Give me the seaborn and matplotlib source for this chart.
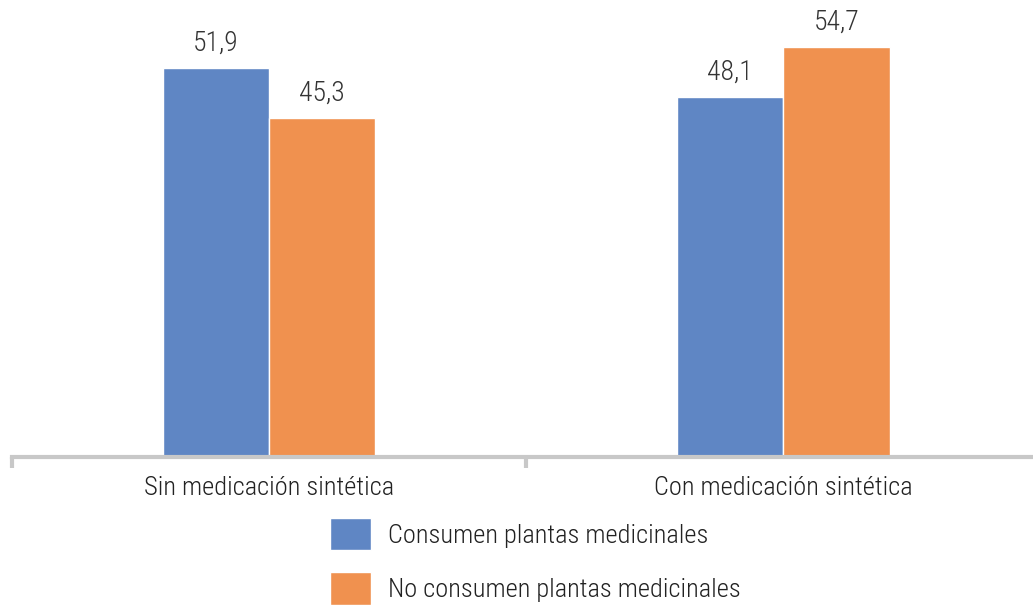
import seaborn as sns
import matplotlib.pyplot as plt
import matplotlib.patches as mpatches
import pandas as pd

# data
categories = ["Sin medicación sintética", "Con medicación sintética"]
series_names = ["Consumen plantas medicinales", "No consumen plantas medicinales"]
consumen = [51.9, 48.1]
no_consumen = [45.3, 54.7]

colors = ["#5F86C4", "#F0914F"]

sns.set_style("white")
plt.rcParams["font.family"] = ["Roboto Condensed", "Liberation Sans Narrow", "Roboto", "DejaVu Sans"]
plt.rcParams["font.stretch"] = "condensed"
plt.rcParams["font.weight"] = "light"

df = pd.DataFrame({
    "categoria": categories * 2,
    "grupo": [series_names[0]] * 2 + [series_names[1]] * 2,
    "valor": consumen + no_consumen,
})

fig = plt.figure(figsize=(10.33, 6.05), dpi=100)
ax = fig.add_axes([12 / 1033, 1 - 457 / 605, 1 - 12 / 1033, 457 / 605])

sns.barplot(data=df, x="categoria", y="valor", hue="grupo", palette=colors,
            saturation=1, width=0.414, edgecolor="white", linewidth=1,
            ax=ax, legend=False)

for cont in ax.containers:
    ax.bar_label(cont, labels=[f"{v:.1f}".replace(".", ",") for v in cont.datavalues],
                 padding=8, fontsize=20, color="#333333")

ax.set_ylim(0, 61)
ax.set_xlim(-0.5, 1.486)
ax.set_xlabel("")
ax.set_ylabel("")
ax.set_yticks([])
for s in ["top", "right", "left"]:
    ax.spines[s].set_visible(False)
ax.spines["bottom"].set_color("#C8C8C8")
ax.spines["bottom"].set_linewidth(3)
ax.tick_params(axis="x", which="major", bottom=True, length=0, pad=14,
               labelsize=19, labelcolor="#222222")
ax.set_xticks([-0.5, 0.5], minor=True)
ax.tick_params(axis="x", which="minor", bottom=True, length=8, width=3, color="#C8C8C8")

handles = [mpatches.Patch(facecolor=c, label=n) for c, n in zip(colors, series_names)]
fig.legend(handles=handles, loc="upper left", bbox_to_anchor=(306 / 1033, 1 - 494 / 605),
           frameon=False, fontsize=19, handlelength=1.55, handleheight=1.5,
           labelspacing=0.85, handletextpad=0.65, labelcolor="#222222")

fig.savefig("out.png", dpi=100)
plt.close(fig)
